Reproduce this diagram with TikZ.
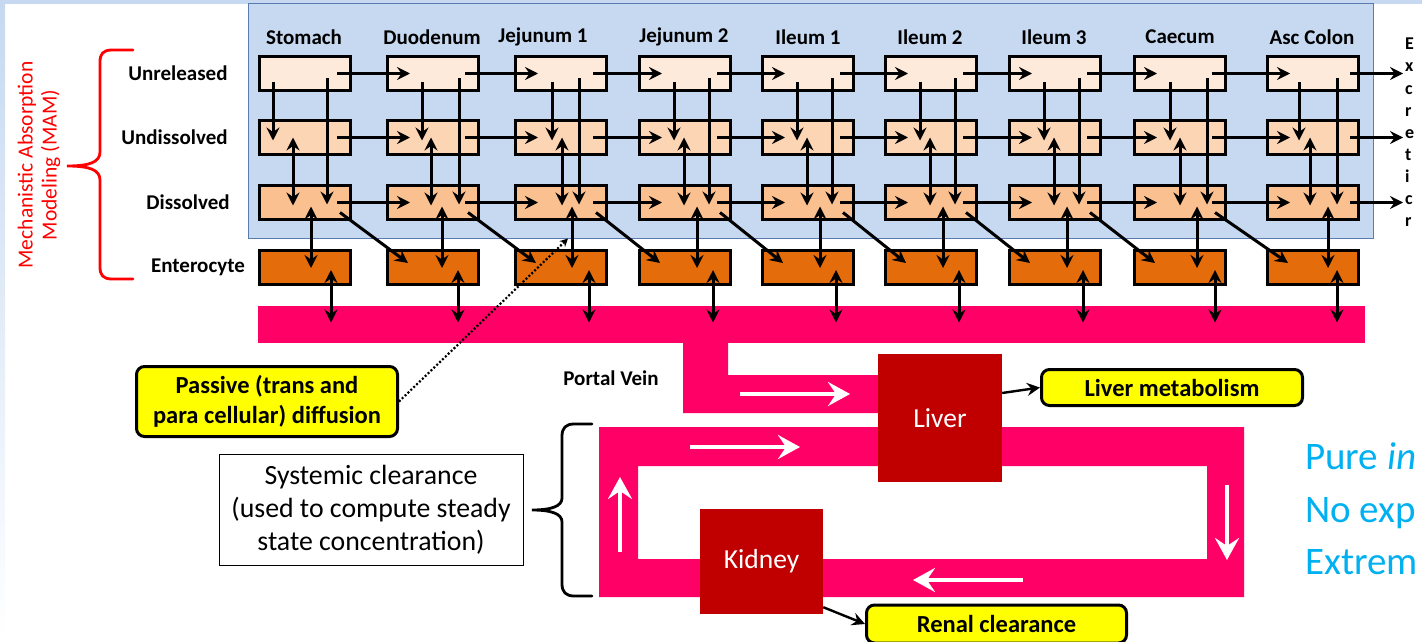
\documentclass[tikz,border=0pt]{standalone}
\usepackage{fontspec}
\setmainfont{Carlito}
\usetikzlibrary{arrows.meta,calc}

\definecolor{panelblue}{HTML}{C6D9F1}
\definecolor{panelline}{HTML}{5A7BB0}
\definecolor{unrel}{HTML}{FDEADA}
\definecolor{undis}{HTML}{FCD5B5}
\definecolor{dissol}{HTML}{FAC090}
\definecolor{entero}{HTML}{E46C0A}
\definecolor{blood}{HTML}{FF0066}
\definecolor{organ}{HTML}{C00000}
\definecolor{note}{HTML}{FFFF00}
\definecolor{skyblue}{HTML}{00B0F0}

\begin{document}
\begin{tikzpicture}[x=1pt,y=-1pt,
    >={Stealth[length=13pt,width=13pt,inset=4.5pt]},
    every node/.style={font=\bfseries\fontsize{21}{25}\selectfont},
    comp/.style={draw=black,line width=3pt,minimum width=91pt,minimum height=34pt,inner sep=0pt},
    flow/.style={draw=black,line width=3pt,->},
    both/.style={draw=black,line width=3pt,<->},
    organbox/.style={fill=organ,text=white,inner sep=0pt,font=\fontsize{27.5}{30}\selectfont},
    notebox/.style={draw=black,line width=3pt,fill=note,rounded corners=8pt,inner sep=0pt,align=center,font=\bfseries\fontsize{24.5}{30}\selectfont},
    wflow/.style={draw=white,line width=4.5pt,-{Stealth[length=22pt,width=24pt,inset=8pt]}},
    brace/.style={line width=2.8pt,line cap=round}
  ]
  \useasboundingbox (0,0) rectangle (1422,642);
  % slide edges
  \fill[panelblue] (0,0) rectangle (1422,4);
  \shade[top color=panelblue,bottom color=white] (0,0) rectangle (5,642);

  % gut panel
  \node[fill=panelblue,draw=panelline,line width=0.8pt,minimum width=1125pt,minimum height=235pt,inner sep=0pt] (panel) at (810.5,120.5) {};

  % segment headers
  \foreach \i/\hx/\txt in {1/304/Stomach,2/432/Duodenum,3/543/Jejunum 1,4/684/Jejunum 2,5/808/Ileum 1,6/930/Ileum 2,7/1054/Ileum 3,8/1180/Caecum,9/1312/Asc Colon}
    {\node (h\i) at (\hx,37) {\txt};}

  % row labels
  \node (lu) at (178,73.5) {Unreleased};
  \node (ln) at (174.5,137.5) {Undissolved};
  \node (ld) at (188,202.5) {Dissolved};
  \node (le) at (198,267) {Enterocyte};
  \node[rotate=90,align=center,text=red,font=\fontsize{21.5}{24}\selectfont] (mam) at (39,165) {Mechanistic Absorption\\Modeling (MAM)};
  \draw[brace,red] (133,50) -- (112,50) .. controls (103,50) and (100,54) .. (100,62) -- (100,152)
    .. controls (100,162) and (90,166) .. (67,166) .. controls (90,166) and (100,170) .. (100,180)
    -- (100,267) .. controls (100,275) and (103,279) .. (112,279) -- (133,279);

  % compartments
  \foreach \i/\cx in {1/305,2/433,3/561,4/685,5/808,6/931,7/1055,8/1180,9/1313}{
    \node[comp,fill=unrel] (u\i) at (\cx,73.5) {};
    \node[comp,fill=undis] (n\i) at (\cx,137.5) {};
    \node[comp,fill=dissol] (d\i) at (\cx,202.5) {};
    \node[comp,fill=entero] (e\i) at (\cx,267) {};
  }

  % blood side
  \node[fill=blood,minimum width=1107pt,minimum height=37pt,inner sep=0pt] (bar) at (811.5,324.5) {};
  \fill[blood] (683,340) -- (728,340) -- (728,375) -- (880,375) -- (880,413) -- (683,413) -- cycle;
  \fill[blood,even odd rule] (599,427) rectangle (1244,597) (638,466) rectangle (1207,559);
  \node (pvlab) at (611,378) {Portal Vein};
  \node[organbox,minimum width=124pt,minimum height=128pt] (liver) at (940,418) {Liver};
  \node[organbox,minimum width=123pt,minimum height=105pt] (kidney) at (761.5,561.5) {Kidney};
  \draw[wflow] (740,394) -- (850,394);
  \draw[wflow] (690,447) -- (800,447);
  \draw[wflow] (1227,485) -- (1227,560);
  \draw[wflow] (1023,580) -- (913,580);
  \draw[wflow] (620,552) -- (620,477);

  % transit between segments
  \foreach \i/\j in {1/2,2/3,3/4,4/5,5/6,6/7,7/8,8/9}{
    \foreach \row in {u,n,d}
      {\draw[flow] ($(\row\i.center)+(32,0)$) -- ($(\row\j.center)+(-23,0)$);}
    \draw[flow] ($(d\i.center)+(35,10)$) -- ($(e\j.center)+(-25,-4)$);
  }
  \foreach \row in {u,n,d}
    {\draw[flow] ($(\row9.center)+(37,0)$) -- ($(\row9.center)+(90,0)$);}

  % release, dissolution, absorption
  \foreach \i/\a/\b/\c/\d/\e in {1/-32/-12/22/6/26,2/-11/-2/26/9/25,3/-9/1/18/11/28,4/-11/-1/24/12/28,5/-11/-1/24/12/28,6/-11/-1/24/12/28,7/-11/-1/24/12/28,8/-10/0/27/17/35,9/-14/-3/24/15/24}{
    \draw[flow] ($(u\i.center)+(\a,9)$) -- ($(n\i.center)+(\a,3)$);
    \draw[flow] ($(u\i.center)+(\c,5)$) -- ($(d\i.center)+(\c,2)$);
    \draw[both] ($(n\i.center)+(\b,0)$) -- ($(d\i.center)+(\b,3)$);
    \draw[both] ($(d\i.center)+(\d,4)$) -- ($(e\i.center)+(\d,1)$);
    \draw[both] ($(e\i.center)+(\e,3)$) -- ($(e\i.center |- bar.center)+(\e,-2)$);
  }

  % cut-off side text
  \node[anchor=north west,align=left,inner sep=0pt,font=\bfseries\fontsize{18}{22.1}\selectfont] (cut) at (1405,38) {E\\x\\c\\r\\e\\t\\i\\c\\r};
  \node[anchor=west,align=left,inner sep=0pt,text=skyblue,font=\fontsize{39}{52.5}\selectfont] (claim) at (1305,509) {Pure \textit{in}\\No exp\\Extrem};

  % call-outs
  \node[notebox,minimum width=261pt,minimum height=70pt] (passive) at (267,401.5) {Passive (trans and\\para cellular) diffusion};
  \draw[line width=2.2pt,dash pattern=on 2pt off 2pt,-{Stealth[length=8pt,width=8pt]}] (passive.east) -- ($(d3.center)+(7,36)$);
  \node[notebox,minimum width=261pt,minimum height=36pt] (lm) at (1172,387.5) {Liver metabolism};
  \node[notebox,minimum width=260pt,minimum height=38pt] (renal) at (996.5,624) {Renal clearance};
  \draw[flow,line width=2.4pt] ($(liver.east)+(0,-25)$) -- (lm.west);
  \draw[flow,line width=2.4pt] ($(kidney.south east)+(0,-7)$) -- (renal.west);
  \node[draw=black,line width=1pt,fill=white,align=center,minimum width=304pt,minimum height=111pt,inner sep=0pt,font=\fontsize{27.8}{33}\selectfont] (sys) at (371,509.5) {Systemic clearance\\(used to compute steady\\state concentration)};
  \draw[brace] (592,424) -- (574,424) .. controls (566,424) and (562,428) .. (562,436) -- (562,498)
    .. controls (562,506) and (552,510) .. (532,510) .. controls (552,510) and (562,514) .. (562,522)
    -- (562,584) .. controls (562,592) and (566,596) .. (574,596) -- (592,596);
\end{tikzpicture}
\end{document}
